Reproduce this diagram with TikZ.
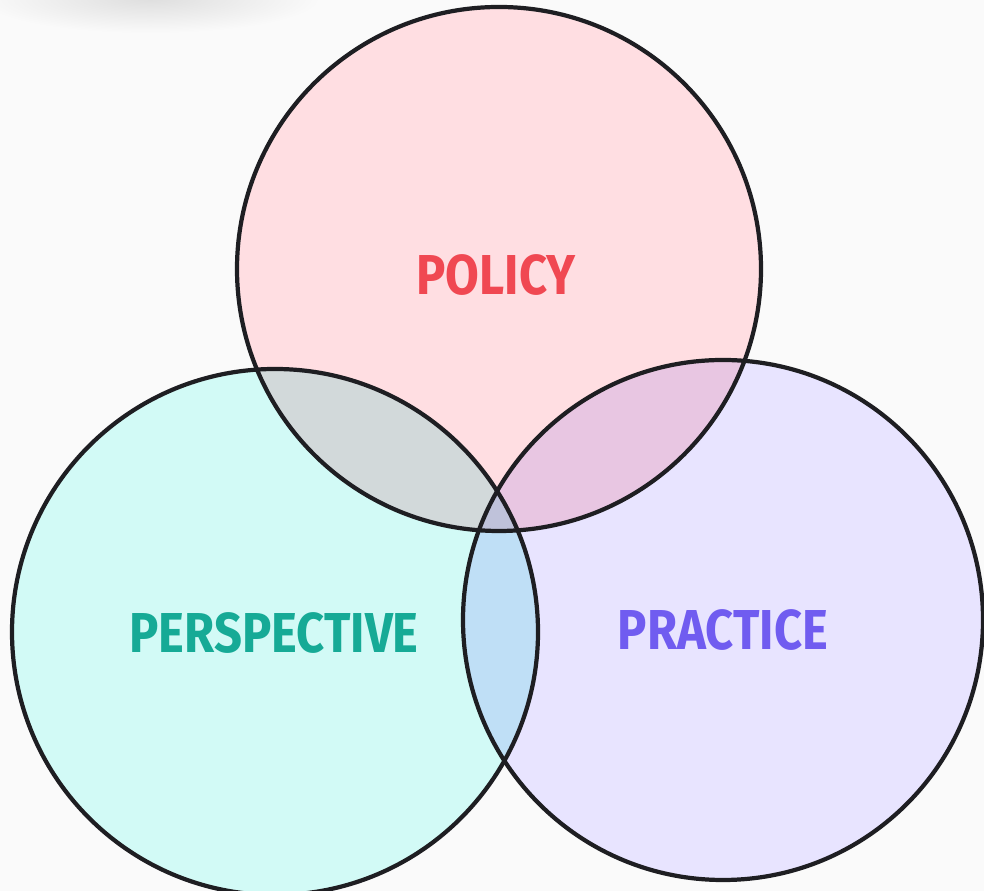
\documentclass[tikz,border=0pt]{standalone}
\usepackage{fontspec}
\newfontfamily\vennfont[FakeStretch=0.87]{Fira Sans}
\definecolor{policyfill}{RGB}{255, 222, 226}
\definecolor{perspfill}{RGB}{210, 250, 246}
\definecolor{practfill}{RGB}{232, 228, 255}
\definecolor{policyred}{RGB}{240, 72, 82}
\definecolor{perspteal}{RGB}{22, 170, 150}
\definecolor{practpurple}{RGB}{112, 92, 240}
\definecolor{ringdark}{RGB}{30, 30, 34}
\usetikzlibrary{positioning}

\begin{document}
\begin{tikzpicture}[x=0.025cm, y=0.025cm,
    ring/.style={draw=ringdark, line width=3pt},
    setlabel/.style={font=\vennfont\bfseries\fontsize{40}{40}\selectfont, inner sep=0pt}]
  \useasboundingbox (0, 0) rectangle (984, 891);
  \fill[white!98!black] (0, 0) rectangle (984, 891);

  % soft shadow in the top left corner
  \shade[inner color=black!13, outer color=white!98!black] (150, 893) ellipse (170 and 35);

  % the three sets, blended
  \begin{scope}[blend group=multiply]
    \fill[policyfill] (499, 622) circle (262);
    \fill[perspfill] (275, 259) circle (263);
    \fill[practfill] (723, 271) circle (260);
  \end{scope}

  % outlines
  \draw[ring] (499, 622) circle (262);
  \draw[ring] (275, 259) circle (263);
  \draw[ring] (723, 271) circle (260);

  % labels
  \node[setlabel, text=policyred] (policy) at (496, 616) {POLICY};
  \node[setlabel, text=perspteal] (perspective) at (274, 258) {PERSPECTIVE};
  \node[setlabel, text=practpurple] (practice) at (723, 261) {PRACTICE};
\end{tikzpicture}
\end{document}
